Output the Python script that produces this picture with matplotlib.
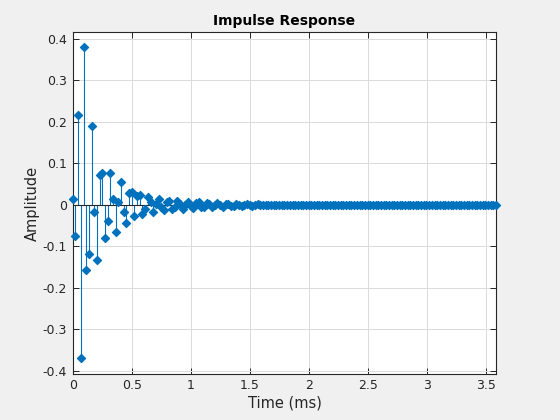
import matplotlib
matplotlib.use('Agg')
import matplotlib.pyplot as plt
import numpy as np

plt.rcParams['axes.unicode_minus'] = False
plt.rcParams['font.family'] = ['DejaVu Sans']

# sample rate (kHz) and impulse response samples
fs_khz = 44.1
h = [
    0.014, -0.074, 0.216, -0.370, 0.381, -0.157, -0.118, 0.190, -0.016, -0.133,
    0.071, 0.078, -0.079, -0.039, 0.078, 0.014, -0.065, 0.006, 0.056, -0.016,
    -0.044, 0.028, 0.030, -0.027, 0.022, 0.025, -0.022, -0.010, 0.020, 0.006,
    -0.017, 0.002, 0.015, -0.005, -0.012, 0.008, 0.010, -0.009, -0.006, 0.010,
    0.003, -0.009, 0.000, 0.008, -0.002, -0.007, 0.004, 0.006, -0.005, -0.004,
    0.005, 0.002, -0.005, 0.000, 0.004, -0.001, -0.004, 0.002, 0.003, -0.003,
    -0.002, 0.003, 0.001, -0.003, 0.000, 0.002, -0.001, -0.002, 0.001, 0.002,
    -0.001, -0.001, 0.001, 0.001, -0.001, 0.000, 0.001, 0.000, -0.001, 0.000,
    0.0005, -0.0004, 0.0004, -0.0004, 0.0003, -0.0003, 0.0003, -0.0003, 0.0002, -0.0002,
    0.0002, -0.0002, 0.0002, -0.0001, 0.0001, -0.0001, 0.0001, -0.0001, 0.0001, -0.0001,
    0.0001, -0.0001, 0.0001, 0.0000, 0.0001, 0.0000, 0.0000, 0.0000, 0.0000, 0.0000,
    0.0000, 0.0000, 0.0000, 0.0000, 0.0000, 0.0000, 0.0000, 0.0000, 0.0000, 0.0000,
    0.0000, 0.0000, 0.0000, 0.0000, 0.0000, 0.0000, 0.0000, 0.0000, 0.0000, 0.0000,
    0.0000, 0.0000, 0.0000, 0.0000, 0.0000, 0.0000, 0.0000, 0.0000, 0.0000, 0.0000,
    0.0000, 0.0000, 0.0000, 0.0000, 0.0000, 0.0000, 0.0000, 0.0000, 0.0000, 0.0000,
    0.0000, 0.0000, 0.0000, 0.0000, 0.0000, 0.0000, 0.0000, 0.0000, 0.0000,
]
t = np.arange(len(h)) / fs_khz

xticks = [0, 0.5, 1, 1.5, 2, 2.5, 3, 3.5]
xticklabels = ['0', '0.5', '1', '1.5', '2', '2.5', '3', '3.5']
yticks = [-0.4, -0.3, -0.2, -0.1, 0, 0.1, 0.2, 0.3, 0.4]
yticklabels = ['-0.4', '-0.3', '-0.2', '-0.1', '0', '0.1', '0.2', '0.3', '0.4']

blue = '#0072BD'
fig = plt.figure(figsize=(5.6, 4.2), dpi=100)
fig.patch.set_facecolor('#F0F0F0')
ax = fig.add_axes([0.130, 0.110, 0.756, 0.813])

ml, sl, bl = ax.stem(t, h, linefmt='-', markerfmt=' ', basefmt='-')
plt.setp(sl, color=blue, linewidth=0.8)
plt.setp(bl, color='#262626', linewidth=0.8, zorder=2)
# diamond heads drawn as a collection (smoother overlap in the dense tail)
ax.scatter(t, h, marker='D', s=17, color=blue, edgecolors=blue,
           linewidths=0.9, zorder=3, clip_on=False)

ax.set_xlim(0, t[-1])
ax.set_ylim(-0.407, 0.416)
ax.set_xticks(xticks)
ax.set_xticklabels(xticklabels)
ax.set_yticks(yticks)
ax.set_yticklabels(yticklabels)

ax.grid(True, color='#DADADA', linewidth=0.7)
ax.set_axisbelow(True)
ax.tick_params(direction='in', top=True, right=True, length=4,
               width=0.7, labelsize=9, colors='#262626', pad=4)
for s in ax.spines.values():
    s.set_color('#262626')
    s.set_linewidth(0.8)

ax.set_title('Impulse Response', fontsize=10, fontweight='bold', pad=5)
ax.set_xlabel('Time (ms)', fontsize=10.5, color='#262626', labelpad=2)
ax.set_ylabel('Amplitude', fontsize=10.5, color='#262626', labelpad=2)

fig.savefig('out.png', dpi=100, facecolor=fig.get_facecolor())
